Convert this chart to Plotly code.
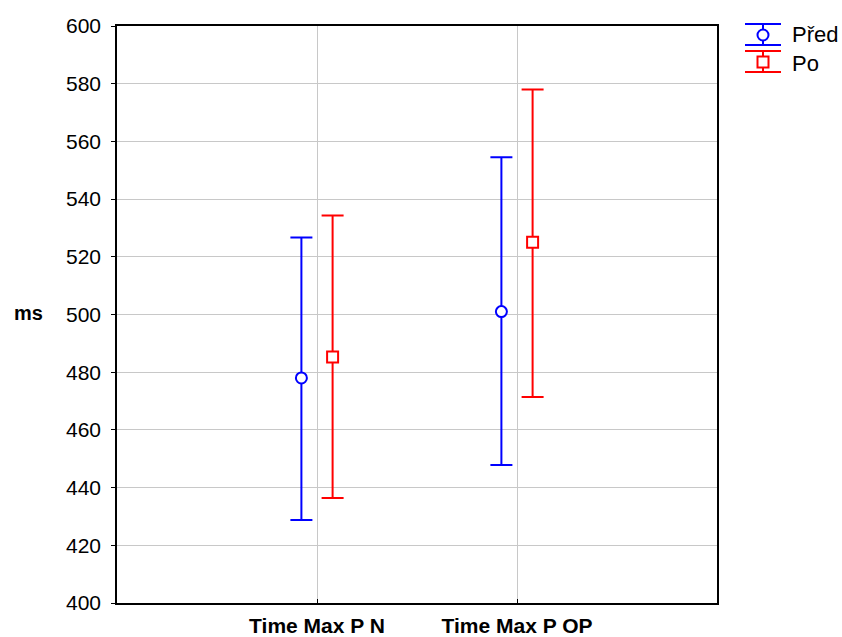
import plotly.graph_objects as go

categories = ["Time Max P N", "Time Max P OP"]
series_names = ["Před", "Po"]
pred_mean = [478.0, 501.0]
pred_upper = [526.7, 554.5]
pred_lower = [428.8, 447.8]
po_mean = [485.3, 525.0]
po_upper = [534.3, 578.0]
po_lower = [436.4, 471.4]
y_ticks = [400, 420, 440, 460, 480, 500, 520, 540, 560, 580, 600]

cat_pos = [1, 2]
offset = 0.078

fig = go.Figure()

def add_series(name, means, upper, lower, color, symbol, shift):
    xs = [p + shift for p in cat_pos]
    fig.add_trace(go.Scatter(
        x=xs, y=means, mode="markers", name=name, showlegend=False,
        marker=dict(symbol=symbol, size=11, color="white",
                    line=dict(color=color, width=2)),
        error_y=dict(type="data", symmetric=False,
                     array=[u - m for u, m in zip(upper, means)],
                     arrayminus=[m - l for m, l in zip(means, lower)],
                     color=color, thickness=2, width=11),
    ))

add_series(series_names[0], pred_mean, pred_upper, pred_lower, "#0000ff", "circle", -offset)
add_series(series_names[1], po_mean, po_upper, po_lower, "#ff0000", "square", offset)

# custom legend (paper coordinates)
W, H = 842, 637
L, R, T, B = 117, 125, 26, 34
pw, ph = W - L - R, H - T - B
def px(x):
    return (x - L) / pw
def py(y):
    return 1 - (y - T) / ph

shapes = []
legend_items = [("#0000ff", "circle", 24, 35, 45), ("#ff0000", "square", 51, 62, 72)]
for color, kind, ytop, ymid, ybot in legend_items:
    for yy in (ytop, ybot):
        shapes.append(dict(type="line", xref="paper", yref="paper",
                           x0=px(745), x1=px(781), y0=py(yy), y1=py(yy),
                           line=dict(color=color, width=2)))
    shapes.append(dict(type="line", xref="paper", yref="paper",
                       x0=px(763), x1=px(763), y0=py(ytop), y1=py(ybot),
                       line=dict(color=color, width=2)))
    shapes.append(dict(type="circle" if kind == "circle" else "rect",
                       xref="paper", yref="paper",
                       x0=px(757.5), x1=px(768.5), y0=py(ymid - 5.5), y1=py(ymid + 5.5),
                       fillcolor="white", line=dict(color=color, width=2)))

FONT = "Liberation Sans, Arial"
annotations = [
    dict(text=series_names[0], xref="paper", yref="paper", x=px(790), y=py(35),
         xanchor="left", yanchor="middle", showarrow=False,
         font=dict(size=22, color="black", family=FONT)),
    dict(text=series_names[1], xref="paper", yref="paper", x=px(790), y=py(63),
         xanchor="left", yanchor="middle", showarrow=False,
         font=dict(size=22, color="black", family=FONT)),
    dict(text="<b>ms</b>", xref="paper", yref="paper", x=px(28), y=py(313),
         xanchor="center", yanchor="middle", showarrow=False,
         font=dict(size=20, color="black", family=FONT)),
]

fig.update_layout(
    width=W, height=H,
    margin=dict(l=L, r=R, t=T, b=B),
    plot_bgcolor="white", paper_bgcolor="white",
    font=dict(family=FONT, size=18, color="black"),
    shapes=shapes, annotations=annotations,
    xaxis=dict(range=[0, 3], tickmode="array", tickvals=cat_pos,
               ticktext=["<b>%s</b>" % c for c in categories],
               showgrid=True, gridcolor="#c8c8c8", gridwidth=1,
               showline=True, linecolor="black", linewidth=1.5, mirror=True,
               ticks="inside", ticklen=4, tickcolor="black", zeroline=False,
               ticklabelstandoff=3, automargin=False,
               tickfont=dict(size=21)),
    yaxis=dict(range=[400, 600], tickmode="array", tickvals=y_ticks,
               showgrid=True, gridcolor="#c8c8c8", gridwidth=1,
               showline=True, linecolor="black", linewidth=1.5, mirror=True,
               ticks="outside", ticklen=4, tickcolor="black", zeroline=False,
               ticklabelstandoff=6, automargin=False,
               tickfont=dict(size=21)),
)

fig.write_html("out.html", config={"displayModeBar": False},
               post_script="document.body.style.margin='0';document.body.style.overflow='hidden';")
